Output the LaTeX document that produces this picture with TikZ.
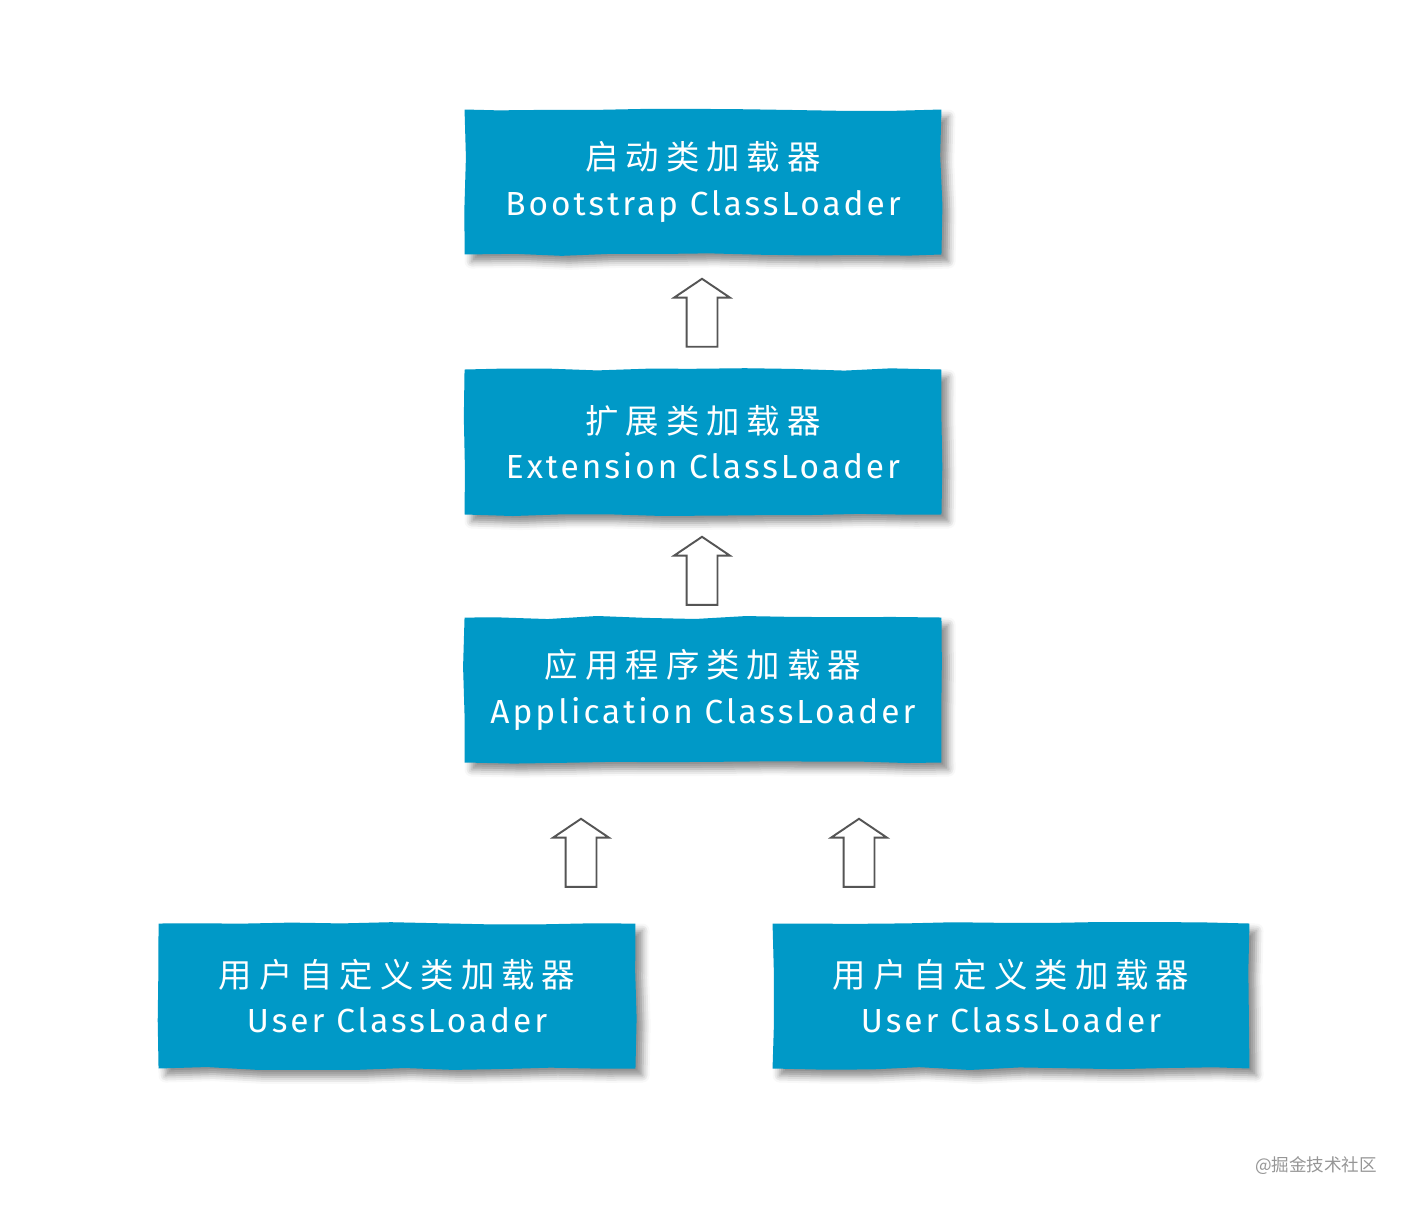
\documentclass[tikz,border=0pt]{standalone}
\usepackage{fontspec}
\setmainfont{Fira Sans}
\newfontfamily\cjk[LetterSpace=21]{Noto Sans CJK SC}
\newfontfamily\cjkmark{Noto Sans CJK SC}
\newfontfamily\latin[LetterSpace=9]{Fira Sans}
\usetikzlibrary{shapes.arrows,shadows.blur,decorations.pathmorphing}
\definecolor{loaderblue}{RGB}{0,153,199}
\definecolor{arrowgray}{RGB}{85,85,85}
\definecolor{markgray}{RGB}{150,150,150}
\tikzset{
  loader/.style={fill=loaderblue, text=white, inner sep=0pt,
    minimum width=9.54cm, minimum height=2.9cm, align=center,
    font=\fontsize{19}{26}\selectfont,
    decorate, decoration={random steps, segment length=28pt, amplitude=0.9pt},
    blur shadow={shadow xshift=4pt, shadow yshift=-4pt,
      shadow blur radius=4pt, shadow opacity=45}},
  uparrow/.style={single arrow, draw=arrowgray, fill=white, line width=1.1pt,
    shape border rotate=90, inner sep=0.29cm,
    minimum height=1.36cm, single arrow head extend=0.25cm,
    single arrow tip angle=112}
}
\begin{document}
\begin{tikzpicture}[x=0.02cm,y=-0.02cm]
  \useasboundingbox (0,0) rectangle (1408,1206);
  \node[loader] (boot) at (703,182) {{\cjk 启动类加载器}\\{\latin Bootstrap ClassLoader}};
  \node[loader] (ext) at (703,442) {{\cjk 扩展类加载器}\\{\latin Extension ClassLoader}};
  \node[loader] (app) at (703,690) {{\cjk 应用程序类加载器}\\{\latin Application ClassLoader}};
  \node[loader] (userA) at (397,996) {{\cjk 用户自定义类加载器}\\{\latin User ClassLoader}};
  \node[loader] (userB) at (1011,996) {{\cjk 用户自定义类加载器}\\{\latin User ClassLoader}};
  \node[uparrow] (extup) at (702,318) {};
  \node[uparrow] (appup) at (702,576) {};
  \node[uparrow] (userAup) at (581,858) {};
  \node[uparrow] (userBup) at (859,858) {};
  \node[text=markgray, font=\cjkmark\fontsize{10}{12}\selectfont] (mark) at (1316,1166) {@掘金技术社区};
\end{tikzpicture}
\end{document}
